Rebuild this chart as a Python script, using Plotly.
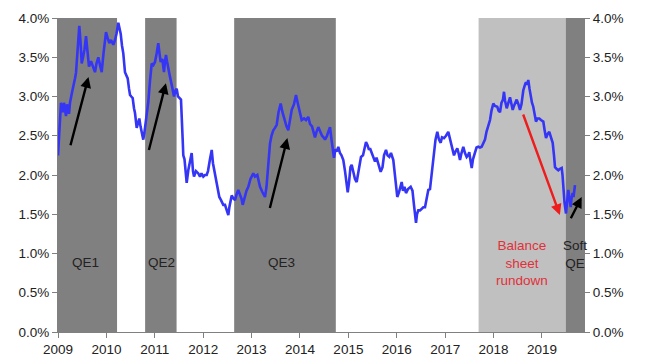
import plotly.graph_objects as go

# ---- data ----
years = [
    2009.000, 2009.021, 2009.062, 2009.103, 2009.124, 2009.165, 2009.186, 2009.227, 2009.248, 2009.289,
    2009.331, 2009.351, 2009.372, 2009.403, 2009.440, 2009.465, 2009.490, 2009.517, 2009.548, 2009.579,
    2009.610, 2009.640, 2009.682, 2009.717, 2009.744, 2009.764, 2009.795, 2009.833, 2009.868, 2009.903,
    2009.940, 2009.992, 2010.023, 2010.060, 2010.095, 2010.143, 2010.178, 2010.209, 2010.246, 2010.295,
    2010.322, 2010.349, 2010.384, 2010.411, 2010.440, 2010.467, 2010.488, 2010.514, 2010.543, 2010.570,
    2010.591, 2010.626, 2010.653, 2010.680, 2010.705, 2010.729, 2010.762, 2010.787, 2010.812, 2010.839,
    2010.866, 2010.901, 2010.936, 2010.969, 2011.004, 2011.039, 2011.072, 2011.097, 2011.122, 2011.155,
    2011.190, 2011.211, 2011.231, 2011.252, 2011.279, 2011.314, 2011.349, 2011.376, 2011.397, 2011.428,
    2011.452, 2011.479, 2011.506, 2011.541, 2011.576, 2011.589, 2011.614, 2011.645, 2011.659, 2011.692,
    2011.727, 2011.762, 2011.789, 2011.810, 2011.851, 2011.899, 2011.934, 2011.965, 2012.002, 2012.037,
    2012.072, 2012.099, 2012.140, 2012.176, 2012.202, 2012.244, 2012.285, 2012.333, 2012.368, 2012.415,
    2012.450, 2012.481, 2012.519, 2012.543, 2012.589, 2012.626, 2012.657, 2012.688, 2012.725, 2012.760,
    2012.791, 2012.816, 2012.853, 2012.895, 2012.932, 2012.977, 2013.035, 2013.070, 2013.118, 2013.153,
    2013.174, 2013.225, 2013.277, 2013.308, 2013.345, 2013.380, 2013.411, 2013.448, 2013.483, 2013.519,
    2013.556, 2013.601, 2013.638, 2013.690, 2013.721, 2013.758, 2013.793, 2013.829, 2013.876, 2013.917,
    2013.959, 2013.990, 2014.035, 2014.083, 2014.124, 2014.171, 2014.207, 2014.248, 2014.279, 2014.310,
    2014.341, 2014.378, 2014.413, 2014.455, 2014.486, 2014.517, 2014.558, 2014.589, 2014.620, 2014.651,
    2014.682, 2014.702, 2014.733, 2014.764, 2014.791, 2014.826, 2014.857, 2014.895, 2014.930, 2014.961,
    2014.986, 2015.012, 2015.043, 2015.068, 2015.095, 2015.136, 2015.171, 2015.198, 2015.229, 2015.260,
    2015.302, 2015.343, 2015.364, 2015.395, 2015.426, 2015.446, 2015.488, 2015.519, 2015.550, 2015.581,
    2015.612, 2015.667, 2015.705, 2015.736, 2015.777, 2015.808, 2015.845, 2015.880, 2015.928, 2015.963,
    2015.983, 2016.010, 2016.045, 2016.076, 2016.101, 2016.128, 2016.159, 2016.190, 2016.231, 2016.287,
    2016.324, 2016.355, 2016.376, 2016.397, 2016.417, 2016.444, 2016.479, 2016.510, 2016.548, 2016.583,
    2016.618, 2016.651, 2016.686, 2016.721, 2016.748, 2016.769, 2016.800, 2016.837, 2016.872, 2016.907,
    2016.934, 2016.975, 2017.017, 2017.064, 2017.099, 2017.134, 2017.161, 2017.182, 2017.213, 2017.250,
    2017.275, 2017.306, 2017.337, 2017.374, 2017.409, 2017.444, 2017.471, 2017.498, 2017.523, 2017.548,
    2017.574, 2017.616, 2017.647, 2017.684, 2017.719, 2017.754, 2017.791, 2017.822, 2017.853, 2017.884,
    2017.926, 2017.957, 2017.994, 2018.029, 2018.076, 2018.101, 2018.132, 2018.163, 2018.194, 2018.215,
    2018.236, 2018.271, 2018.298, 2018.339, 2018.370, 2018.395, 2018.421, 2018.477, 2018.514, 2018.545,
    2018.576, 2018.614, 2018.649, 2018.669, 2018.690, 2018.717, 2018.742, 2018.767, 2018.793, 2018.820,
    2018.845, 2018.876, 2018.907, 2018.944, 2018.979, 2019.027, 2019.052, 2019.083, 2019.114, 2019.151,
    2019.186, 2019.221, 2019.248, 2019.269, 2019.300, 2019.337, 2019.372, 2019.407, 2019.424, 2019.440,
    2019.465, 2019.496, 2019.517, 2019.543, 2019.568, 2019.593, 2019.610, 2019.634, 2019.651, 2019.671,
    2019.682,
]
yield_10y = [
    2.25, 2.45, 2.92, 2.80, 2.92, 2.75, 2.90, 2.78, 2.92, 3.05,
    3.15, 3.23, 3.30, 3.60, 3.90, 3.70, 3.42, 3.50, 3.60, 3.77,
    3.55, 3.38, 3.45, 3.40, 3.36, 3.31, 3.42, 3.50, 3.40, 3.31,
    3.55, 3.82, 3.75, 3.68, 3.72, 3.66, 3.72, 3.80, 3.94, 3.80,
    3.65, 3.55, 3.31, 3.28, 3.23, 3.10, 3.02, 3.00, 2.98, 2.85,
    2.79, 2.60, 2.68, 2.72, 2.62, 2.55, 2.45, 2.55, 2.66, 2.78,
    2.93, 3.20, 3.42, 3.40, 3.44, 3.55, 3.68, 3.55, 3.44, 3.48,
    3.31, 3.45, 3.53, 3.45, 3.34, 3.25, 3.15, 3.05, 3.00, 3.08,
    3.10, 3.00, 2.98, 2.96, 2.45, 2.25, 2.20, 2.02, 1.90, 2.06,
    2.20, 2.28, 2.05, 1.98, 2.05, 2.02, 1.98, 2.02, 1.98, 2.00,
    2.00, 2.05, 2.20, 2.32, 2.15, 2.00, 1.90, 1.72, 1.68, 1.62,
    1.62, 1.55, 1.49, 1.60, 1.74, 1.70, 1.68, 1.75, 1.81, 1.75,
    1.70, 1.62, 1.72, 1.80, 1.85, 1.95, 2.02, 1.98, 2.00, 1.92,
    1.85, 1.78, 1.72, 1.85, 2.15, 2.40, 2.50, 2.57, 2.60, 2.64,
    2.80, 2.91, 2.80, 2.67, 2.62, 2.57, 2.70, 2.83, 2.90, 3.02,
    2.90, 2.80, 2.70, 2.72, 2.70, 2.74, 2.65, 2.62, 2.55, 2.48,
    2.55, 2.61, 2.56, 2.50, 2.48, 2.45, 2.50, 2.55, 2.61, 2.45,
    2.30, 2.22, 2.33, 2.30, 2.36, 2.28, 2.25, 2.19, 2.05, 1.85,
    1.78, 1.90, 2.10, 2.13, 2.05, 1.95, 1.91, 2.00, 2.15, 2.23,
    2.25, 2.35, 2.42, 2.38, 2.32, 2.34, 2.28, 2.22, 2.17, 2.22,
    2.15, 2.04, 2.10, 2.25, 2.32, 2.25, 2.23, 2.28, 2.19, 2.00,
    1.85, 1.72, 1.78, 1.85, 1.91, 1.80, 1.85, 1.77, 1.82, 1.85,
    1.80, 1.62, 1.45, 1.39, 1.50, 1.55, 1.55, 1.57, 1.59, 1.59,
    1.72, 1.81, 1.82, 2.02, 2.20, 2.36, 2.45, 2.55, 2.45, 2.41,
    2.48, 2.47, 2.50, 2.55, 2.45, 2.38, 2.30, 2.25, 2.30, 2.34,
    2.28, 2.19, 2.28, 2.36, 2.28, 2.23, 2.25, 2.29, 2.18, 2.09,
    2.20, 2.28, 2.35, 2.36, 2.35, 2.36, 2.40, 2.45, 2.55, 2.62,
    2.70, 2.82, 2.91, 2.88, 2.87, 2.82, 2.80, 2.92, 2.96, 3.06,
    2.95, 2.85, 2.90, 2.99, 2.90, 2.83, 2.88, 2.96, 2.90, 2.83,
    2.90, 3.08, 3.15, 3.18, 3.15, 3.21, 3.10, 2.99, 2.92, 2.87,
    2.78, 2.68, 2.72, 2.72, 2.70, 2.68, 2.58, 2.47, 2.52, 2.55,
    2.48, 2.41, 2.25, 2.10, 2.08, 2.06, 2.08, 2.09, 2.00, 1.85,
    1.65, 1.51, 1.62, 1.81, 1.70, 1.59, 1.70, 1.77, 1.72, 1.80,
    1.87,
]

# policy periods
period_labels = ["QE1", "QE2", "QE3", "Balance<br>sheet<br>rundown", "Soft<br>QE"]
period_start = [2009.00, 2010.80, 2012.64, 2017.69, 2019.49]
period_end = [2010.22, 2011.45, 2014.74, 2019.49, 2019.868]
period_fill = ["#808080", "#808080", "#808080", "#c0c0c0", "#808080"]
label_x = [2009.57, 2011.14, 2013.62, 2018.58, 2019.69]
label_y = [0.88, 0.88, 0.88, 0.88, 0.99]
label_color = ["#222222", "#222222", "#222222", "#e0303a", "#222222"]

# trend arrows: (tail_x, tail_y, head_x, head_y, colour)
arrow_tail_x = [2009.25, 2010.87, 2013.37, 2018.60, 2019.58]
arrow_tail_y = [2.36, 2.30, 1.56, 2.79, 1.43]
arrow_head_x = [2009.63, 2011.23, 2013.74, 2019.37, 2019.82]
arrow_head_y = [3.25, 3.17, 2.47, 1.49, 1.72]
arrow_color = ["#000000", "#000000", "#000000", "#ee1c1c", "#000000"]

x_ticks = list(range(2009, 2020))
y_ticks = [0.0, 0.5, 1.0, 1.5, 2.0, 2.5, 3.0, 3.5, 4.0]

X_RANGE = [2009.0, 2019.868]
Y_RANGE = [0.0, 4.0]

FONT = "Liberation Sans, Arial, sans-serif"

fig = go.Figure()

fig.add_trace(go.Scatter(
    x=years, y=yield_10y, mode="lines",
    line=dict(color="#3535f5", width=2.6),
    showlegend=False, hoverinfo="skip",
))
# invisible trace so the right-hand axis is drawn
fig.add_trace(go.Scatter(
    x=[years[0]], y=[yield_10y[0]], yaxis="y2", mode="markers",
    marker=dict(opacity=0), showlegend=False, hoverinfo="skip",
))

shapes = []
for s, e, c in zip(period_start, period_end, period_fill):
    shapes.append(dict(type="rect", xref="x", yref="y", x0=s, x1=e, y0=Y_RANGE[0], y1=Y_RANGE[1],
                       fillcolor=c, line=dict(width=0), layer="below"))

annotations = []
for t, x, y, c in zip(period_labels, label_x, label_y, label_color):
    annotations.append(dict(x=x, y=y, xref="x", yref="y", text=t, showarrow=False,
                            font=dict(family=FONT, size=13.5, color=c), align="center"))
for tx, ty, hx, hy, c in zip(arrow_tail_x, arrow_tail_y, arrow_head_x, arrow_head_y, arrow_color):
    annotations.append(dict(x=hx, y=hy, ax=tx, ay=ty, xref="x", yref="y", axref="x", ayref="y",
                            text="", showarrow=True, arrowhead=2, arrowsize=0.9, arrowwidth=2.4,
                            arrowcolor=c, standoff=0, startstandoff=0))

axis_common = dict(showgrid=False, zeroline=False, showline=True, linecolor="#808080", linewidth=1,
                   ticks="outside", ticklen=5, tickcolor="#808080", automargin=False,
                   tickfont=dict(family=FONT, size=13.5, color="#222222"))

# the page body adds an 8px margin, so the figure is 8px smaller and margins shifted
fig.update_layout(
    width=642, height=353,
    margin=dict(l=50, r=66, t=10, b=29),
    paper_bgcolor="white", plot_bgcolor="white",
    shapes=shapes, annotations=annotations,
    xaxis=dict(range=X_RANGE, tickvals=x_ticks, ticktext=[str(v) for v in x_ticks], **axis_common),
    yaxis=dict(range=Y_RANGE, tickvals=y_ticks, ticktext=[f"{v:.1f}%" for v in y_ticks], **axis_common),
    yaxis2=dict(range=Y_RANGE, tickvals=y_ticks, ticktext=[f"{v:.1f}%" for v in y_ticks],
                overlaying="y", side="right", **axis_common),
)

fig.write_html("out.html")
